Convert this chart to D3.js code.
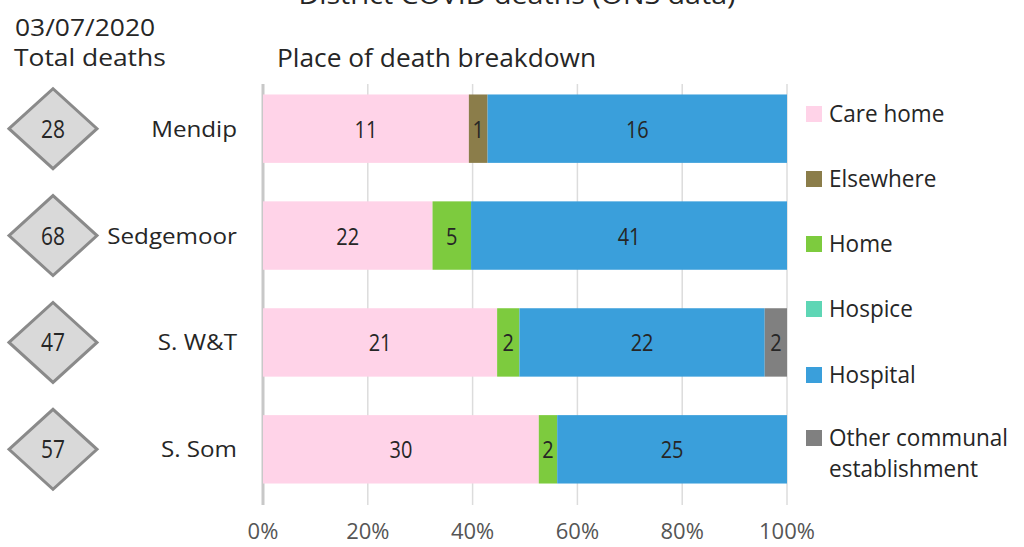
<!DOCTYPE html>
<html>
<head>
<meta charset="utf-8">
<script src="https://cdn.jsdelivr.net/npm/d3@7"></script>
<style>
  body { margin: 0; background: #fff; }
  svg text { font-family: "Open Sans", sans-serif; fill: #262626; }
</style>
</head>
<body>
<div id="chart"></div>
<script>
// data
var districts = ["Mendip", "Sedgemoor", "S. W&T", "S. Som"];
var places = ["Care home", "Elsewhere", "Home", "Hospice", "Hospital", "Other communal establishment"];
var careHome = [11, 22, 21, 30];
var elsewhere = [1, 0, 0, 0];
var home = [0, 5, 2, 2];
var hospice = [0, 0, 0, 0];
var hospital = [16, 41, 22, 25];
var otherCommunal = [0, 0, 2, 0];
var tickValues = [0, 0.2, 0.4, 0.6, 0.8, 1];
var colours = ["#ffd3e8", "#8b7d4a", "#7dcb3e", "#5ed6b5", "#3a9fdb", "#808080"];

var svgWidth = 1024;
var svgHeight = 547;

var series = [careHome, elsewhere, home, hospice, hospital, otherCommunal];
var rows = districts.map(function(name, i) {
  var row = { name: name };
  places.forEach(function(p, j) { row[p] = series[j][i]; });
  row.total = d3.sum(series, function(s) { return s[i]; });
  return row;
});

var svg = d3.select("#chart").append("svg")
  .attr("width", svgWidth)
  .attr("height", svgHeight);

// text helper, sx/sy stretch the glyphs (the picture's font is narrow and tall)
function stext(x, y, str, size, anchor, sy, sx) {
  return svg.append("text")
    .attr("transform", "translate(" + x + "," + y + ") scale(" + (sx || 1) + "," + (sy || 1) + ")")
    .attr("text-anchor", anchor || "start")
    .attr("font-size", size)
    .text(str);
}

var x = d3.scaleLinear().domain([0, 1]).range([263, 787]);
var y = d3.scaleBand().domain(districts).range([56, 522]).padding(0.36);

// gridlines
svg.append("g").selectAll("line")
  .data(tickValues.slice(1))
  .join("line")
  .attr("x1", function(d) { return x(d); })
  .attr("x2", function(d) { return x(d); })
  .attr("y1", 84).attr("y2", 505)
  .attr("stroke", "#dcdcdc").attr("stroke-width", 1.5);
svg.append("line")
  .attr("x1", x(0)).attr("x2", x(0))
  .attr("y1", 84).attr("y2", 505)
  .attr("stroke", "#c8c8c8").attr("stroke-width", 3);

// tick labels
tickValues.forEach(function(t) {
  stext(x(t), 539, d3.format(".0%")(t), 20, "middle", 1.05, 1.1).style("fill", "#555");
});

// stacked bars
var stack = d3.stack().keys(places).offset(d3.stackOffsetExpand);
var layers = stack(rows);
var colour = d3.scaleOrdinal().domain(places).range(colours);

layers.forEach(function(layer) {
  var g = svg.append("g");
  g.selectAll("rect")
    .data(layer)
    .join("rect")
    .attr("x", function(d) { return x(d[0]); })
    .attr("width", function(d) { return x(d[1]) - x(d[0]); })
    .attr("y", function(d) { return y(d.data.name); })
    .attr("height", y.bandwidth())
    .attr("fill", colour(layer.key));
  layer.forEach(function(d) {
    var v = d.data[layer.key];
    if (v > 0) {
      stext((x(d[0]) + x(d[1])) / 2, y(d.data.name) + y.bandwidth() / 2 + 9, v, 19, "middle", 1.25, 1.05);
    }
  });
});

// diamonds with totals
rows.forEach(function(r) {
  var cy = y(r.name) + y.bandwidth() / 2;
  var cx = 53;
  svg.append("path")
    .attr("d", "M" + (cx - 44) + "," + cy + "L" + cx + "," + (cy - 40) + "L" + (cx + 44) + "," + cy + "L" + cx + "," + (cy + 40) + "Z")
    .attr("fill", "#d9d9d9")
    .attr("stroke", "#8a8a8a")
    .attr("stroke-width", 3);
  stext(cx, cy + 9, r.total, 20, "middle", 1.25, 1.05);
  stext(237, cy + 8, r.name, 22, "end", 1.0, 1.1);
});

// headers
stext(517, 4, "District COVID deaths (ONS data)", 26, "middle", 1, 1.1);
stext(15, 36, "03/07/2020", 22, "start", 1.1, 1.2);
stext(14, 66, "Total deaths", 22, "start", 1.1, 1.2);
stext(277, 67, "Place of death breakdown", 22.5, "start", 1.1, 1.17);

// legend
var legendY = [114, 179, 244, 309, 375, 438];
places.forEach(function(p, i) {
  svg.append("rect")
    .attr("x", 806).attr("y", legendY[i] - 8)
    .attr("width", 16).attr("height", 16)
    .attr("fill", colours[i]);
  if (p === "Other communal establishment") {
    stext(829, legendY[i] + 8, "Other communal", 20.5, "start", 1.15, 1.1);
    stext(829, legendY[i] + 39, "establishment", 20.5, "start", 1.15, 1.1);
  } else {
    stext(829, legendY[i] + 8, p, 20.5, "start", 1.15, 1.1);
  }
});
</script>
</body>
</html>
